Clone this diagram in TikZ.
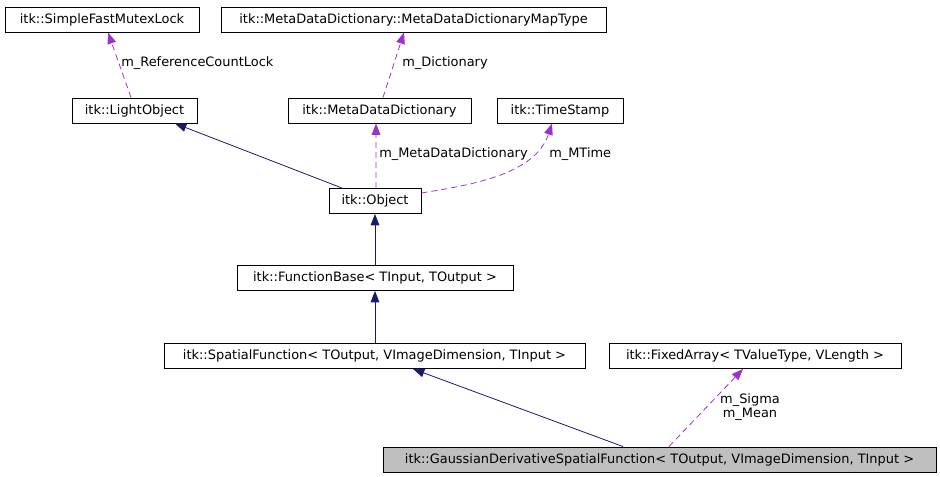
\documentclass[tikz,border=0pt]{standalone}
\usepackage{fontspec}
\setmainfont{DejaVu Sans}
\usetikzlibrary{positioning, arrows.meta}
\definecolor{inherit}{HTML}{191970}
\definecolor{usage}{HTML}{9A32CD}
\definecolor{focus}{HTML}{BFBFBF}
\tikzset{klass/.style={draw,line width=0.7pt,minimum height=18.75pt,inner sep=0pt,font=\fontsize{9.7}{11}\selectfont},
         base/.style={draw=inherit,line width=0.6pt,-{Triangle[length=8.5pt,width=6.5pt]}},
         member/.style={draw=usage,line width=0.6pt,dash pattern=on 4.5pt off 3pt,-{Triangle[length=8.5pt,width=6.5pt]}},
         role/.style={font=\fontsize{9.7}{11}\selectfont,inner sep=0pt},
        }

\begin{document}
\begin{tikzpicture}[x=0.75pt,y=-0.75pt]
        \useasboundingbox (0,0) rectangle (940,477);
        \node[klass, minimum width=145.5pt](sfml)at(102,19.5){itk::SimpleFastMutexLock};
        \node[klass, minimum width=288.75pt](maptype)at(413.5,19.5){itk::MetaDataDictionary::MetaDataDictionaryMapType};
        \node[klass, minimum width=93.75pt](light)at(134.5,110.5){itk::LightObject};
        \node[klass, minimum width=137.25pt](mdd)at(379.5,110.5){itk::MetaDataDictionary};
        \node[klass, minimum width=94.5pt](stamp)at(560,110.5){itk::TimeStamp};
        \node[klass, minimum width=69pt](obj)at(375,201){itk::Object};
        \node[klass, minimum width=207pt](fbase)at(375,278){itk::FunctionBase< TInput, TOutput >};
        \node[klass, minimum width=315.75pt](spatial)at(374.5,356){itk::SpatialFunction< TOutput, VImageDimension, TInput >};
        \node[klass, minimum width=219pt](fixed)at(755,356){itk::FixedArray< TValueType, VLength >};
        \node[klass, fill=focus, minimum width=414.75pt](gauss)at(659.5,459.5){itk::GaussianDerivativeSpatialFunction< TOutput, VImageDimension, TInput >};

        \draw[member]([xshift=-2.6pt]light.north)--([xshift=4.5pt]sfml.south);
        \node[role, anchor=west](lock)at(121,63){m\_ReferenceCountLock};
        \draw[member]([xshift=2.6pt]mdd.north)--([xshift=-7.1pt]maptype.south);
        \node[role, anchor=west](dict)at(402,63){m\_Dictionary};
        \draw[member]([xshift=0.75pt]obj.north)--([xshift=-2.6pt]mdd.south);
        \node[role, anchor=west](mmdd)at(379,154){m\_MetaDataDictionary};
        \draw[member]([yshift=6pt]obj.east)..controls(470,185)and(535,175)..([xshift=-6pt]stamp.south);
        \node[role, anchor=west](mtime)at(549,154){m\_MTime};
        \draw[base]([xshift=-24.75pt]obj.north)--([xshift=30.4pt]light.south);
        \draw[base](fbase.north)--(obj.south);
        \draw[base]([xshift=0.375pt]spatial.north)--(fbase.south);
        \draw[base]([xshift=-27.4pt]gauss.north)--([xshift=28.9pt]spatial.south);
        \draw[member]([xshift=7.1pt]gauss.north)--([xshift=-9pt]fixed.south);
        \node[role, align=center](sigma)at(750,407){m\_Sigma\\m\_Mean};
    \end{tikzpicture}
\end{document}
